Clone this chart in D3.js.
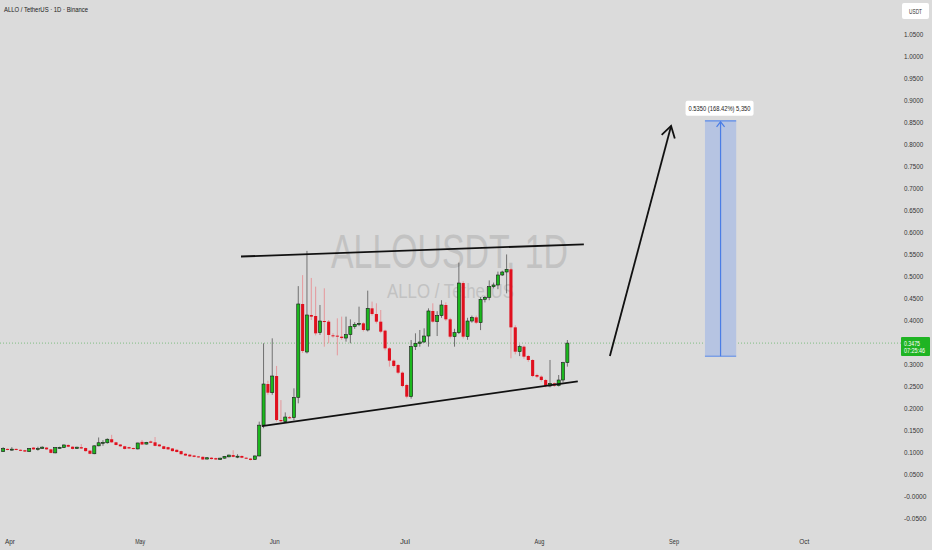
<!DOCTYPE html>
<html><head><meta charset="utf-8">
<script src="https://cdn.jsdelivr.net/npm/d3@7/dist/d3.min.js"></script>
<style>html,body{margin:0;padding:0;background:#dbdbdb;}svg{display:block;font-family:"Liberation Sans",Arial,sans-serif;}</style>
</head><body>
<script>
// ---- data ----
const startDate = "2025-03-31";
const opens  = [.101,.107,.106,.107,.105,.104,.101,.110,.107,.108,.110,.106,.098,.110,.110,.116,.112,.108,.111,.109,.103,.096,.114,.121,.121,.129,.122,.117,.113,.111,.109,.107,.123,.118,.124,.122,.117,.113,.111,.108,.105,.102,.096,.094,.092,.090,.089,.084,.087,.086,.083,.086,.089,.093,.090,.091,.087,.085,.083,.091,.161,.2545,.2348,.2727,.1727,.169,.179,.178,.2242,.4364,.3273,.4114,.4091,.3712,.3977,.3962,.3652,.3644,.3621,.359,.3667,.3848,.3902,.3924,.3773,.4265,.4136,.3962,.3758,.3356,.3076,.2977,.2803,.2523,.2258,.3394,.347,.350,.3636,.4205,.3962,.4100,.4341,.4015,.3621,.3712,.484,.3621,.3977,.406,.3939,.447,.4515,.4758,.4795,.5023,.5091,.5152,.3833,.3280,.3394,.3182,.3091,.2750,.2712,.2636,.2500,.2561,.2508,.2636,.3030];
const highs  = [.111,.108,.111,.108,.106,.105,.109,.111,.112,.113,.111,.107,.111,.112,.117,.117,.113,.112,.118,.110,.104,.115,.133,.127,.131,.139,.123,.118,.114,.112,.110,.121,.1273,.123,.126,.134,.118,.114,.112,.109,.106,.103,.097,.095,.093,.091,.090,.088,.088,.087,.087,.091,.094,.104,.095,.092,.088,.086,.092,.169,.347,.262,.3583,.2955,.218,.190,.182,.2447,.477,.502,.557,.4955,.4758,.4341,.4720,.400,.370,.4038,.4076,.4076,.4015,.395,.4303,.395,.4667,.4417,.4379,.4227,.378,.338,.310,.300,.283,.255,.3545,.3697,.3773,.3811,.4265,.4379,.420,.445,.440,.405,.380,.5303,.488,.405,.410,.410,.452,.455,.490,.485,.510,.512,.549,.518,.388,.344,.342,.320,.311,.278,.274,.266,.3091,.258,.275,.305,.3545];
const lows   = [.100,.104,.103,.104,.102,.100,.100,.105,.103,.107,.105,.097,.097,.108,.109,.111,.106,.107,.107,.101,.095,.095,.113,.114,.119,.121,.115,.112,.106,.107,.106,.106,.116,.117,.120,.113,.112,.106,.105,.101,.099,.094,.091,.089,.088,.087,.082,.083,.083,.082,.082,.085,.088,.088,.086,.086,.084,.081,.082,.090,.154,.230,.230,.169,.167,.167,.175,.172,.2106,.325,.324,.400,.365,.366,.3394,.347,.360,.3197,.355,.3508,.347,.380,.386,.374,.374,.410,.392,.370,.331,.294,.292,.277,.247,.222,.2212,.3318,.3394,.348,.3394,.394,.3636,.405,.398,.358,.3394,.368,.358,.355,.394,.391,.377,.440,.445,.472,.470,.500,.4606,.3129,.322,.318,.312,.305,.270,.268,.260,.247,.247,.248,.249,.258,.294];
const closes = [.108,.105,.1065,.105,.103,.101,.108,.106,.108,.111,.106,.098,.110,.1105,.116,.112,.107,.111,.108,.102,.096,.114,.121,.122,.129,.122,.116,.113,.107,.108,.107,.1205,.117,.122,.121,.114,.113,.107,.106,.102,.100,.095,.092,.090,.089,.088,.083,.087,.084,.083,.086,.090,.093,.089,.0905,.087,.085,.082,.091,.161,.2545,.2348,.2727,.1727,.170,.1795,.178,.2242,.4364,.3295,.4114,.4076,.3697,.3977,.3955,.366,.3636,.3621,.359,.3667,.3848,.3902,.3924,.3773,.4265,.4136,.3962,.3735,.3356,.3076,.2955,.2803,.2500,.2258,.3394,.347,.350,.3636,.4205,.3962,.4100,.4341,.4015,.3621,.3712,.484,.3621,.3977,.406,.3939,.447,.4515,.4758,.4795,.5023,.5091,.5152,.3833,.3280,.3394,.3167,.3091,.2727,.2712,.2636,.2500,.2561,.2508,.2636,.3030,.3475];
const yTickValues = [1.05,1.0,0.95,0.9,0.85,0.8,0.75,0.7,0.65,0.6,0.55,0.5,0.45,0.4,0.35,0.3,0.25,0.2,0.15,0.1,0.05,0,-0.05];
const yTickLabels = ["1.0500","1.0000","0.9500","0.9000","0.8500","0.8000","0.7500","0.7000","0.6500","0.6000","0.5500","0.5000","0.4500","0.4000","","0.3000","0.2500","0.2000","0.1500","0.1000","0.0500","-0.0000","-0.0500"];
const monthTicks = ["2025-04-01","2025-05-01","2025-06-01","2025-07-01","2025-08-01","2025-09-01","2025-10-01"];
const monthLabels = ["Apr","May","Jun","Jul","Aug","Sep","Oct"];
const lastPrice = 0.3475;
const countdown = "07:25:46";
// annotations in data space: [day offset from startDate, price]
const upperTrend = [[54.8,0.5443],[133.8,0.572]];
const lowerTrend = [[59.6,0.159],[132.4,0.2607]];
const arrowLine  = [[139.8,0.318],[153.9,0.841]];
const measure = {d0:161.7, d1:168.9, p0:0.3177, p1:0.8527, label:"0.5350 (168.42%) 5,350"};

// ---- setup ----
const W=932,H=550;
const svg=d3.select("body").append("svg").attr("width",W).attr("height",H);
svg.append("rect").attr("width",W).attr("height",H).attr("fill","#dbdbdb");

const t0=new Date(startDate+"T00:00:00Z");
const dayAt=k=>new Date(t0.getTime()+k*86400000);
const x=d3.scaleUtc().domain([t0,dayAt(203)]).range([3.16,3.16+203*4.34]);
const y=d3.scaleLinear().domain([0,1]).range([496,56]);
const P=([k,p])=>[x(dayAt(k)),y(p)];

const data=opens.map((o,i)=>({d:d3.utcDay.offset(t0,i),o,h:highs[i],l:lows[i],c:closes[i]}));

// watermark
svg.append("text").attr("x",331).attr("y",268).attr("font-size",49).attr("fill","#c2c2c2")
  .attr("textLength",237).attr("lengthAdjust","spacingAndGlyphs").text("ALLOUSDT, 1D");
svg.append("text").attr("x",387).attr("y",298).attr("font-size",21).attr("fill","#c2c2c2")
  .attr("textLength",127).attr("lengthAdjust","spacingAndGlyphs").text("ALLO / TetherUS");

// price line
svg.append("line").attr("x1",0).attr("x2",901).attr("y1",y(lastPrice)).attr("y2",y(lastPrice))
  .attr("stroke","#4caf50").attr("stroke-width",0.8).attr("stroke-dasharray","1,2").attr("opacity",0.8);

// candles
const bw=3.1;
const g=svg.append("g");
g.selectAll(".wick").data(data).join("line")
  .attr("x1",d=>x(d.d)).attr("x2",d=>x(d.d)).attr("y1",d=>y(d.h)).attr("y2",d=>y(d.l))
  .attr("stroke",d=>d.c>=d.o?"#555":"#e8868c").attr("stroke-width",0.8);
g.selectAll(".body").data(data).join("rect")
  .attr("x",d=>x(d.d)-bw/2).attr("width",bw)
  .attr("y",d=>y(Math.max(d.o,d.c)))
  .attr("height",d=>Math.max(1,Math.abs(y(d.o)-y(d.c))))
  .attr("fill",d=>d.c>=d.o?"#1cb81e":"#e0101e")
  .attr("stroke",d=>d.c>=d.o?"#1a1a1a":"none").attr("stroke-width",0.6);

// trendlines
const line=d3.line().x(d=>P(d)[0]).y(d=>P(d)[1]);
svg.append("path").attr("d",line(upperTrend)).attr("stroke","#111").attr("stroke-width",1.8).attr("fill","none");
svg.append("path").attr("d",line(lowerTrend)).attr("stroke","#111").attr("stroke-width",1.8).attr("fill","none");

// arrow
const a0=P(arrowLine[0]),a1=P(arrowLine[1]);
svg.append("line").attr("x1",a0[0]).attr("y1",a0[1]).attr("x2",a1[0]).attr("y2",a1[1]).attr("stroke","#111").attr("stroke-width",1.8);
{
  const ang=Math.atan2(a1[1]-a0[1],a1[0]-a0[0]);const L=13,sp=0.55;
  const pA=[a1[0]-L*Math.cos(ang-sp),a1[1]-L*Math.sin(ang-sp)];
  const pB=[a1[0]-L*Math.cos(ang+sp),a1[1]-L*Math.sin(ang+sp)];
  svg.append("path").attr("d",`M${pA}L${a1}L${pB}`).attr("stroke","#111").attr("stroke-width",1.8).attr("fill","none");
}

// measurement box
{
  const xa=x(dayAt(measure.d0)),xb=x(dayAt(measure.d1));
  const yt=y(measure.p1),yb=y(measure.p0);
  const xm=(xa+xb)/2;
  svg.append("rect").attr("x",xa).attr("y",yt).attr("width",xb-xa).attr("height",yb-yt).attr("fill","#b6c4e2");
  svg.append("line").attr("x1",xa).attr("x2",xb).attr("y1",yt).attr("y2",yt).attr("stroke","#5a8ae8").attr("stroke-width",1.2);
  svg.append("line").attr("x1",xa).attr("x2",xb).attr("y1",yb).attr("y2",yb).attr("stroke","#5a8ae8").attr("stroke-width",1);
  svg.append("line").attr("x1",xm).attr("x2",xm).attr("y1",yb).attr("y2",yt+1).attr("stroke","#4a7de6").attr("stroke-width",1.2);
  svg.append("path").attr("d",`M${xm-4},${yt+6}L${xm},${yt+1}L${xm+4},${yt+6}`).attr("stroke","#4a7de6").attr("stroke-width",1.2).attr("fill","none");
  svg.append("rect").attr("x",xm-35).attr("y",yt-20).attr("width",68).attr("height",15).attr("rx",2).attr("fill","#fff");
  svg.append("text").attr("x",xm-32).attr("y",yt-10).attr("font-size",7).attr("fill","#222")
    .attr("textLength",62).attr("lengthAdjust","spacingAndGlyphs").text(measure.label);
}

// y axis
const yAxis=d3.axisRight(y).tickValues(yTickValues).tickSize(0).tickPadding(0)
  .tickFormat((d,i)=>yTickLabels[i]);
const ya=svg.append("g").attr("transform","translate(904,0)").call(yAxis);
ya.select(".domain").remove();
ya.selectAll("text").attr("font-size",7).attr("fill","#333").attr("font-family","Liberation Sans, Arial, sans-serif")
  .attr("textLength",function(){return this.textContent.length*3.2;}).attr("lengthAdjust","spacingAndGlyphs");

// x axis
const xAxis=d3.axisBottom(x).tickValues(monthTicks.map(s=>new Date(s+"T00:00:00Z"))).tickSize(0).tickPadding(0)
  .tickFormat((d,i)=>monthLabels[i]);
const xa=svg.append("g").attr("transform","translate(2,539)").call(xAxis);
xa.select(".domain").remove();
xa.selectAll("text").attr("font-size",7.5).attr("fill","#333").attr("font-family","Liberation Sans, Arial, sans-serif")
  .attr("textLength",10).attr("lengthAdjust","spacingAndGlyphs");

// price label
{
  const yp=y(lastPrice);
  svg.append("rect").attr("x",901).attr("y",yp-6).attr("width",29).attr("height",19).attr("rx",1).attr("fill","#1fb423");
  svg.append("text").attr("x",904).attr("y",yp+2.5).attr("font-size",6.5).attr("fill","#fff")
    .attr("textLength",16).attr("lengthAdjust","spacingAndGlyphs").text(lastPrice.toFixed(4));
  svg.append("text").attr("x",904).attr("y",yp+10).attr("font-size",6.5).attr("fill","#fff")
    .attr("textLength",21).attr("lengthAdjust","spacingAndGlyphs").text(countdown);
}

// USDT box
svg.append("rect").attr("x",902).attr("y",3).attr("width",27).attr("height",16).attr("rx",2).attr("fill","#fff");
svg.append("text").attr("x",915.5).attr("y",13.5).attr("text-anchor","middle").attr("font-size",6.5).attr("fill","#333")
  .attr("textLength",13).attr("lengthAdjust","spacingAndGlyphs").text("USDT");

// title
svg.append("text").attr("x",4).attr("y",12).attr("font-size",7.5).attr("fill","#222")
  .attr("textLength",84).attr("lengthAdjust","spacingAndGlyphs").text("ALLO / TetherUS · 1D · Binance");
</script>
</body></html>
